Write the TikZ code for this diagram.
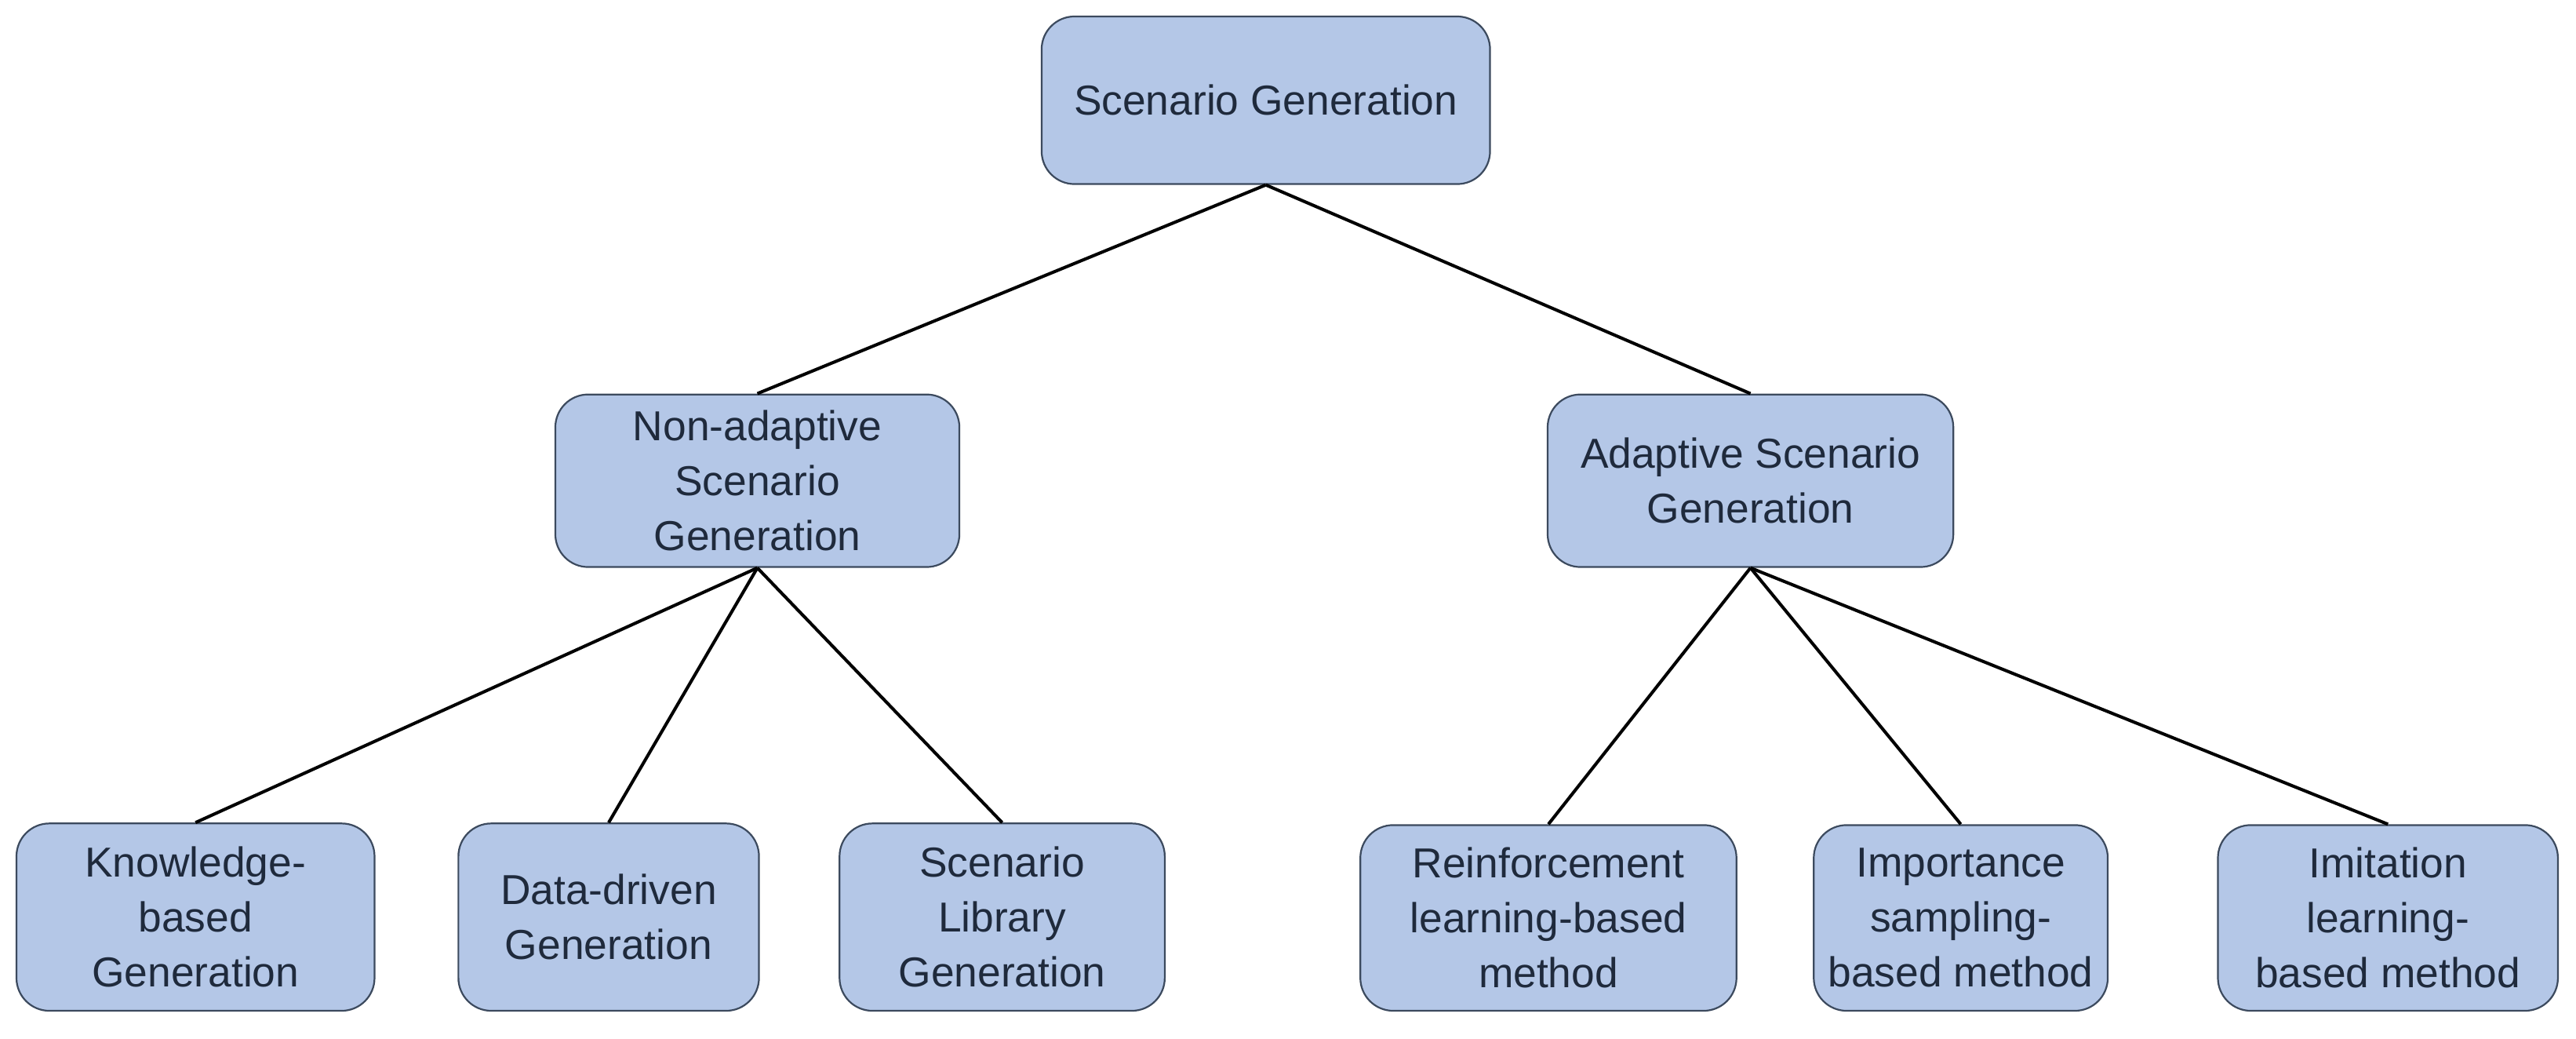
\documentclass[tikz,border=0pt]{standalone}
\usepackage{fontspec}
\setmainfont{Liberation Sans}
\definecolor{boxfill}{HTML}{B4C7E7}
\definecolor{boxline}{HTML}{3C4A5E}
\definecolor{boxtext}{HTML}{1F2A3C}
\begin{document}
\begin{tikzpicture}[x=.02cm,y=-.02cm,line join=round,
  box/.style={draw=boxline,line width=.6pt,fill=boxfill,rounded corners=.4cm,
    inner sep=0pt,align=center,text=boxtext,
    font=\fontsize{14.5}{19}\selectfont},
  link/.style={line width=1.1pt,draw=black}]
\useasboundingbox (0,0) rectangle (1568,632);
\node[box,minimum width=5.46cm,minimum height=2.04cm] (root) at (770.5,61) {Scenario Generation};
\node[box,minimum width=4.92cm,minimum height=2.1cm] (nonad) at (461,292.5) {Non-adaptive\\Scenario\\Generation};
\node[box,minimum width=4.94cm,minimum height=2.1cm] (adapt) at (1065.5,292.5) {Adaptive Scenario\\Generation};
\node[box,minimum width=4.36cm,minimum height=2.28cm] (know) at (119,558) {Knowledge-\\based\\Generation};
\node[box,minimum width=3.66cm,minimum height=2.28cm] (data) at (370.5,558) {Data-driven\\Generation};
\node[box,minimum width=3.96cm,minimum height=2.28cm] (lib) at (610,558) {Scenario\\Library\\Generation};
\node[box,minimum width=4.58cm,minimum height=2.26cm] (reinf) at (942.5,558.5) {Reinforcement\\learning-based\\method};
\node[box,minimum width=3.58cm,minimum height=2.26cm] (impor) at (1193.5,558.5) {Importance\\sampling-\\based method};
\node[box,minimum width=4.14cm,minimum height=2.26cm] (imit) at (1453.5,558.5) {Imitation\\learning-\\based method};
\draw[link](root.south)--(nonad.north);
\draw[link](root.south)--(adapt.north);
\draw[link](nonad.south)--(know.north);
\draw[link](nonad.south)--(data.north);
\draw[link](nonad.south)--(lib.north);
\draw[link](adapt.south)--(reinf.north);
\draw[link](adapt.south)--(impor.north);
\draw[link](adapt.south)--(imit.north);
\end{tikzpicture}
\end{document}
